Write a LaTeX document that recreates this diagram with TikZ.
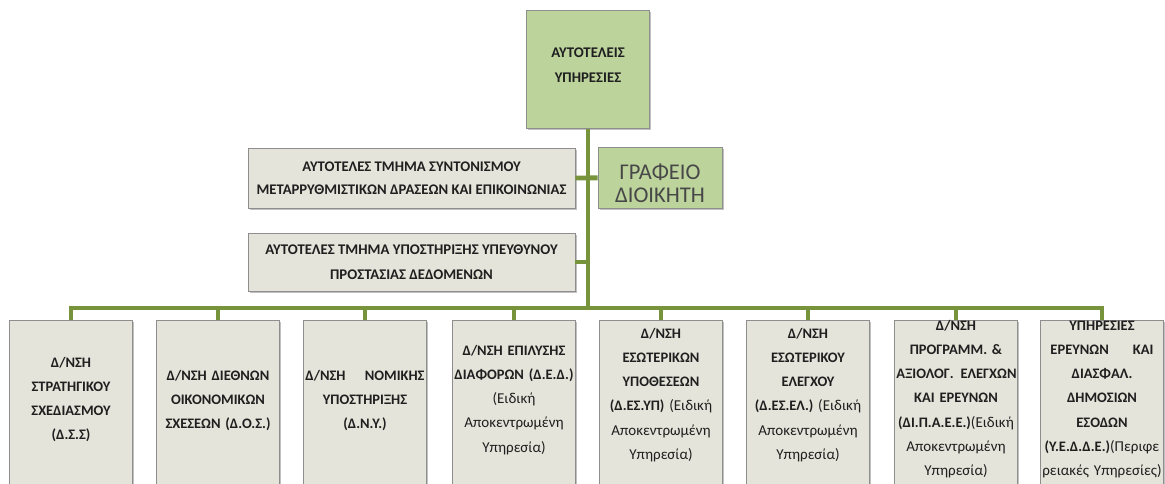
\documentclass[tikz,border=0pt]{standalone}
\usepackage{fontspec}
\setmainfont{Carlito}
\usetikzlibrary{shadows}
\definecolor{olivelink}{HTML}{77933C}
\definecolor{olivefill}{HTML}{BCD39C}
\definecolor{greyfill}{HTML}{E4E4DA}
\definecolor{greyedge}{HTML}{8E8E8E}
\newcommand\regtext{\mdseries\fontsize{10.7}{17.2}\selectfont}
\newcommand\fullline[1]{\makebox[\linewidth]{#1}}
\begin{document}
\begin{tikzpicture}[x=0.025cm, y=-0.025cm,
    font=\bfseries\fontsize{10.5}{17.6}\selectfont, text=black!88,
    orgbox/.style={draw=greyedge, line width=0.6pt, fill=greyfill, align=center,
      drop shadow={shadow xshift=1.4pt, shadow yshift=-1.4pt, opacity=0.35, fill=black!70}},
    headbox/.style={orgbox, fill=olivefill, anchor=north, inner ysep=0pt, inner xsep=0.05cm},
    unitbox/.style={orgbox, anchor=north, minimum width=3.075cm, text width=2.975cm,
      inner xsep=0.05cm, inner ysep=0pt, text depth=4.2cm,
      font=\bfseries\fontsize{10.3}{17.2}\selectfont},
    link/.style={draw=olivelink, line width=3.5pt}]
  \useasboundingbox (0,0) rectangle (1165,484);

  \node[headbox, text width=2.975cm, text height=1.175cm, text depth=1.775cm] (top) at (588,10) {ΑΥΤΟΤΕΛΕΙΣ\\ΥΠΗΡΕΣΙΕΣ};
  \node[orgbox, minimum width=8.175cm, minimum height=1.5cm, font=\bfseries\fontsize{10.45}{16.6}\selectfont] (sync) at (411.5,178) {ΑΥΤΟΤΕΛΕΣ ΤΜΗΜΑ ΣΥΝΤΟΝΙΣΜΟΥ\\ΜΕΤΑΡΡΥΘΜΙΣΤΙΚΩΝ ΔΡΑΣΕΩΝ ΚΑΙ ΕΠΙΚΟΙΝΩΝΙΑΣ};
  \node[headbox, text width=3.0cm, text height=0.8cm, text depth=0.725cm, font=\mdseries\fontsize{16}{16.4}\selectfont, text=black!72] (office) at (660,147) {ΓΡΑΦΕΙΟ\\ΔΙΟΙΚΗΤΗ};
  \node[orgbox, minimum width=8.175cm, minimum height=1.45cm] (data) at (411.5,262) {ΑΥΤΟΤΕΛΕΣ ΤΜΗΜΑ ΥΠΟΣΤΗΡΙΞΗΣ ΥΠΕΥΘΥΝΟΥ\\ΠΡΟΣΤΑΣΙΑΣ ΔΕΔΟΜΕΝΩΝ};

  \node[unitbox, text height=1.175cm] (b1) at (71,320) {Δ/ΝΣΗ\\ΣΤΡΑΤΗΓΙΚΟΥ\\ΣΧΕΔΙΑΣΜΟΥ\\(Δ.Σ.Σ)};
  \node[unitbox, text height=1.5cm] (b2) at (218,320) {Δ/ΝΣΗ ΔΙΕΘΝΩΝ\\ΟΙΚΟΝΟΜΙΚΩΝ\\ΣΧΕΣΕΩΝ (Δ.Ο.Σ.)};
  \node[unitbox, text height=1.5cm] (b3) at (365,320) {\fullline{Δ/ΝΣΗ\hfill ΝΟΜΙΚΗΣ}\\ΥΠΟΣΤΗΡΙΞΗΣ\\(Δ.Ν.Υ.)};
  \node[unitbox, text height=0.875cm] (b4) at (514,320) {Δ/ΝΣΗ ΕΠΙΛΥΣΗΣ\\\fullline{ΔΙΑΦΟΡΩΝ (Δ.Ε.Δ.)}\\\regtext(Ειδική\\\regtext Αποκεντρωμένη\\\regtext Υπηρεσία)};
  \node[unitbox, text height=0.45cm] (b5) at (661,320) {Δ/ΝΣΗ\\ΕΣΩΤΕΡΙΚΩΝ\\ΥΠΟΘΕΣΕΩΝ\\\fullline{(Δ.ΕΣ.ΥΠ) {\regtext(Ειδική}}\\\regtext Αποκεντρωμένη\\\regtext Υπηρεσία)};
  \node[unitbox, text height=0.45cm] (b6) at (808,320) {Δ/ΝΣΗ\\ΕΣΩΤΕΡΙΚΟΥ\\ΕΛΕΓΧΟΥ\\\fullline{(Δ.ΕΣ.ΕΛ.) {\regtext(Ειδική}}\\\regtext Αποκεντρωμένη\\\regtext Υπηρεσία)};
  \node[unitbox, text height=0.25cm] (b7) at (956,320) {Δ/ΝΣΗ\\ΠΡΟΓΡΑΜΜ. \&\\\makebox[3.0cm]{ΑΞΙΟΛΟΓ.\hfill ΕΛΕΓΧΩΝ}\\ΚΑΙ ΕΡΕΥΝΩΝ\\\fullline{(ΔΙ.Π.Α.Ε.Ε.){\regtext(Ειδική}}\\\regtext Αποκεντρωμένη\\\regtext Υπηρεσία)};
  \node[unitbox, text height=0.25cm] (b8) at (1102,320) {ΥΠΗΡΕΣΙΕΣ\\\makebox[2.575cm]{ΕΡΕΥΝΩΝ\hfill ΚΑΙ}\\ΔΙΑΣΦΑΛ.\\ΔΗΜΟΣΙΩΝ\\ΕΣΟΔΩΝ\\\fullline{(Υ.Ε.Δ.Δ.Ε.){\regtext(Περιφε}}\\\fullline{\regtext ρειακές Υπηρεσίες)}};

  \coordinate (bus) at (588,308);
  \draw[link] (top.south) -- (bus);
  \draw[link] (sync.east) -- (office.west);
  \draw[link] (data.east) -- (data.east -| bus);
  \draw[link] (b1.north) |- (bus) -| (b8.north);
  \foreach \i in {2,...,7}
    \draw[link] (b\i.north) -- (b\i.north |- bus);
\end{tikzpicture}
\end{document}
